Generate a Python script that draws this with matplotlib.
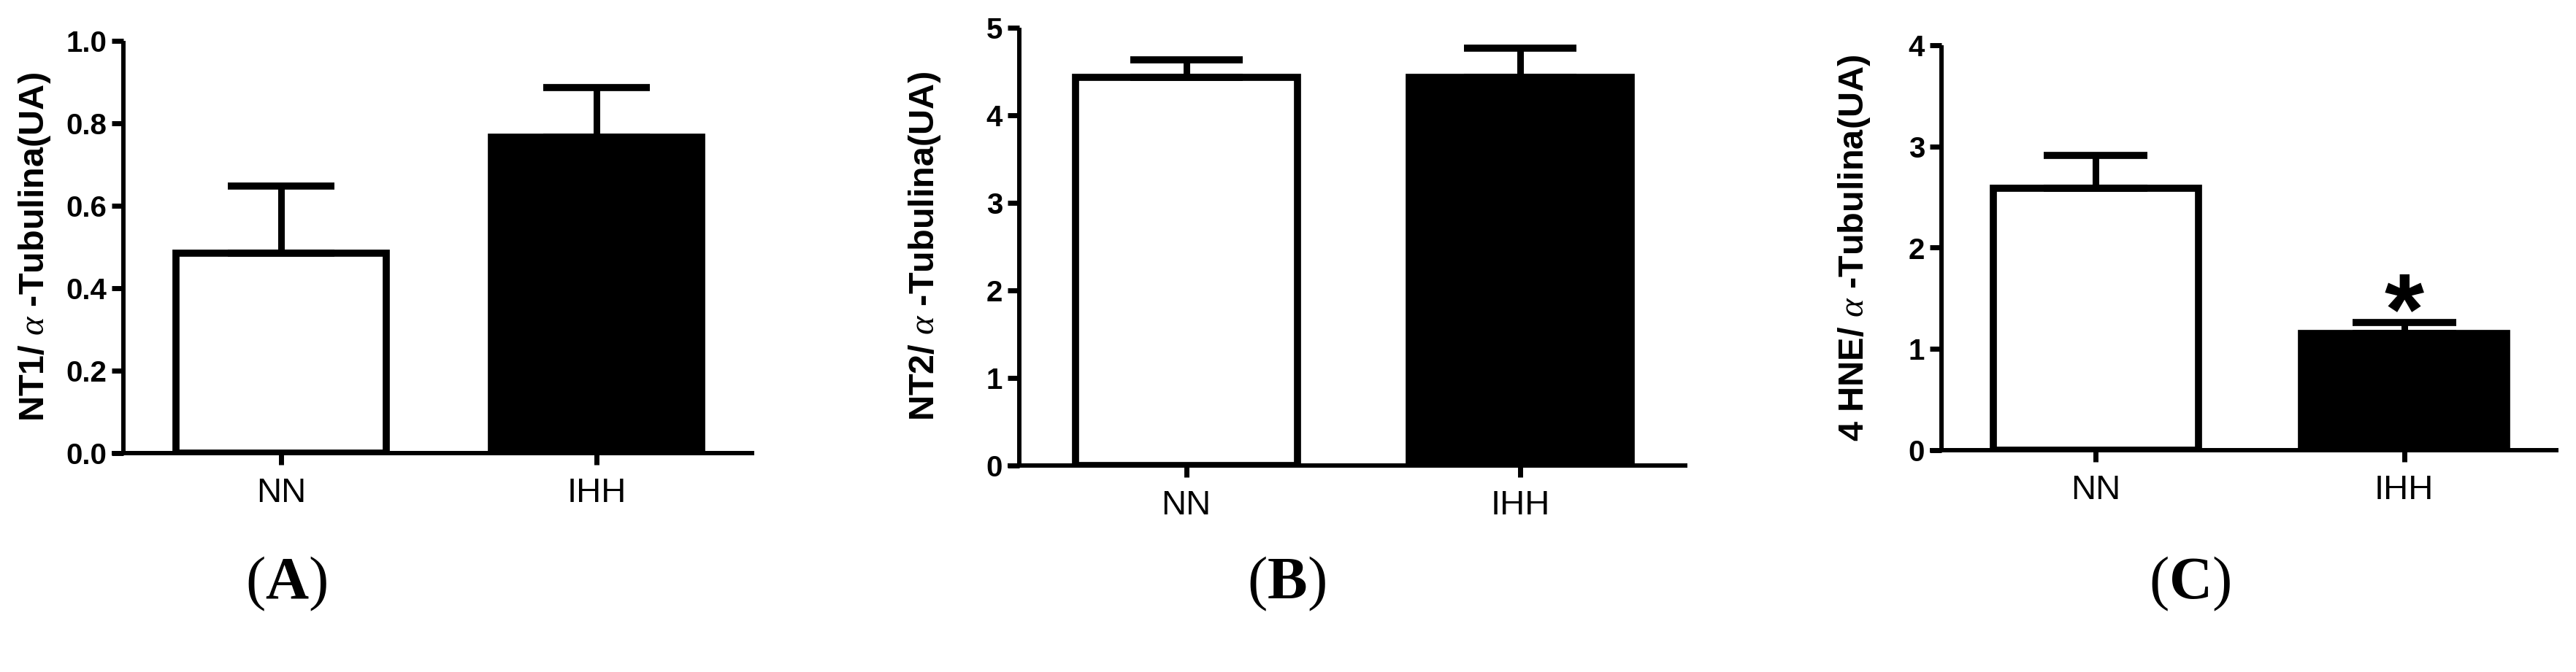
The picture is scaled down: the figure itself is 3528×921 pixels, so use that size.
import matplotlib
matplotlib.use("Agg")
import matplotlib.pyplot as plt
from matplotlib.ticker import FormatStrFormatter, MultipleLocator

# ---------------- data ----------------
groups = ["NN", "IHH"]

nt1_mean = [0.485, 0.766]
nt1_sem = [0.163, 0.121]

nt2_mean = [4.43, 4.43]
nt2_sem = [0.20, 0.34]

hne_mean = [2.59, 1.15]
hne_sem = [0.32, 0.11]

ylabels = [r"NT1/ $\alpha$ -Tubulina(UA)", r"NT2/ $\alpha$ -Tubulina(UA)", r"4 HNE/ $\alpha$ -Tubulina(UA)"]
panel_letters = ["A", "B", "C"]
ylims = [(0, 1.0), (0, 5), (0, 4)]
ysteps = [0.2, 1, 1]
yfmts = ["%.1f", "%d", "%d"]
means = [nt1_mean, nt2_mean, hne_mean]
sems = [nt1_sem, nt2_sem, hne_sem]
bar_faces = ["white", "black"]

# ---------------- layout (pixels in a 3528x921 canvas) ----------------
W, H = 3528, 921
DPI = 100
# (left, right, top, bottom) of each plot area in pixels
boxes = [(169, 1033, 56, 621), (1396, 2311, 38, 638), (2659, 3504, 62, 617)]
letter_pos = [(392, 800), (1762, 800), (2999, 800)]

plt.rcParams["mathtext.fontset"] = "custom"
plt.rcParams["mathtext.rm"] = "Liberation Serif"
plt.rcParams["mathtext.it"] = "Liberation Serif:italic"
plt.rcParams["mathtext.bf"] = "Liberation Serif:bold"

fig = plt.figure(figsize=(W / DPI, H / DPI), dpi=DPI)
fig.patch.set_facecolor("white")

SANS = ["Liberation Sans", "DejaVu Sans"]
NARROW = ["Liberation Sans Narrow", "Liberation Sans", "DejaVu Sans"]

spine_lw = 4.3
edge_lw = 7.0
err_lw = 6.5
tick_len = 11.5
tick_w = 5.0
bar_width = 0.665
cap_half = 0.168

xpos = list(range(len(groups)))

for i, (l, r, t, b) in enumerate(boxes):
    ax = fig.add_axes([l / W, (H - b) / H, (r - l) / W, (b - t) / H])
    ax.set_xlim(-0.5, 1.5)
    ax.set_ylim(*ylims[i])

    ax.bar(xpos, means[i], width=bar_width, color=bar_faces,
           edgecolor="black", linewidth=edge_lw, zorder=2)

    px_per_unit = (r - l) / 2.0
    capsize_pt = cap_half * px_per_unit * 72.0 / DPI
    ax.errorbar(xpos, means[i], yerr=[[0] * len(groups), sems[i]], fmt="none",
                ecolor="black", elinewidth=err_lw, capsize=capsize_pt,
                capthick=edge_lw, zorder=3)

    for side in ["top", "right"]:
        ax.spines[side].set_visible(False)
    for side in ["left", "bottom"]:
        ax.spines[side].set_linewidth(spine_lw)
        ax.spines[side].set_capstyle("butt")
    ext = tick_len * DPI / 72.0 / px_per_unit
    ax.spines["bottom"].set_bounds(-0.5 - ext, 1.5)

    ax.yaxis.set_major_locator(MultipleLocator(ysteps[i]))
    ax.yaxis.set_major_formatter(FormatStrFormatter(yfmts[i]))
    ax.set_xticks(xpos)
    ax.set_xticklabels(groups)

    ax.tick_params(axis="y", length=tick_len, width=tick_w, pad=5,
                   labelsize=29, direction="out")
    ax.tick_params(axis="x", length=tick_len, width=tick_w, pad=12,
                   labelsize=34, direction="out")
    for lab in ax.get_yticklabels():
        lab.set_fontweight("bold")
        lab.set_family(SANS)
    for lab in ax.get_xticklabels():
        lab.set_family(NARROW)

    ax.set_ylabel(ylabels[i], fontsize=35, fontweight="bold", family=SANS,
                  va="center", ha="center")
    ax.yaxis.set_label_coords(-0.141, 0.5)

    lx, ly = letter_pos[i]
    fig.text(lx / W, 1 - ly / H, r"($\mathbf{%s}$)" % panel_letters[i],
             ha="center", va="center", fontsize=59, family="Liberation Serif")

    if i == 2:
        ax.annotate("*", xy=(1, hne_mean[1] + hne_sem[1]), xytext=(0, -21),
                    textcoords="offset points", ha="center", va="baseline",
                    fontsize=100, fontweight="bold", family=SANS)

fig.savefig("out.png", dpi=DPI, facecolor="white")
